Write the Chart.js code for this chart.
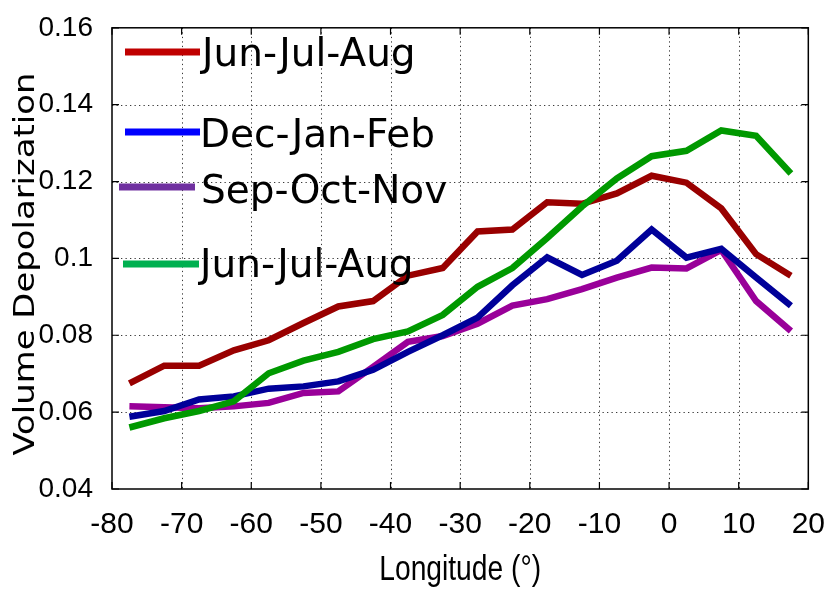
<!DOCTYPE html>
<html>
<head>
<meta charset="utf-8">
<script src="https://cdn.jsdelivr.net/npm/chart.js@4/dist/chart.umd.min.js"></script>
<style>
  html, body { margin: 0; padding: 0; background: #fff; }
  #wrap { width: 835px; height: 590px; }
</style>
</head>
<body>
<div id="wrap"><canvas id="c" width="835" height="590"></canvas></div>
<script>
// ---- data ----
const longitudes = [-77.5, -72.5, -67.5, -62.5, -57.5, -52.5, -47.5, -42.5, -37.5, -32.5,
                    -27.5, -22.5, -17.5, -12.5, -7.5, -2.5, 2.5, 7.5, 12.5, 17.5];
const seriesNames = ['Jun-Jul-Aug', 'Dec-Jan-Feb', 'Sep-Oct-Nov', 'Jun-Jul-Aug'];
const jjaRed = [0.0675, 0.0721, 0.0721, 0.0761, 0.0787, 0.0832, 0.0875, 0.0889, 0.0955, 0.0975,
                0.1070, 0.1075, 0.1146, 0.1142, 0.1169, 0.1215, 0.1197, 0.1130, 0.1011, 0.0955];
const djf    = [0.0588, 0.0603, 0.0633, 0.0641, 0.0661, 0.0667, 0.0680, 0.0710, 0.0757, 0.0800,
                0.0846, 0.0930, 0.1003, 0.0957, 0.0994, 0.1075, 0.1002, 0.1025, 0.0950, 0.0877];
const son    = [0.0615, 0.0613, 0.0610, 0.0615, 0.0624, 0.0650, 0.0654, 0.0718, 0.0783, 0.0798,
                0.0830, 0.0877, 0.0894, 0.0920, 0.0950, 0.0976, 0.0974, 0.1022, 0.0889, 0.0811];
const jjaGreen = [0.0560, 0.0584, 0.0603, 0.0628, 0.0701, 0.0734, 0.0757, 0.0790, 0.0810, 0.0853,
                  0.0926, 0.0975, 0.1053, 0.1135, 0.1208, 0.1266, 0.1280, 0.1333, 0.1319, 0.1221];
const xTicks = [-80, -70, -60, -50, -40, -30, -20, -10, 0, 10, 20];
const xTickLabels = ['-80', '-70', '-60', '-50', '-40', '-30', '-20', '-10', '0', '10', '20'];
const yTicks = [0.04, 0.06, 0.08, 0.10, 0.12, 0.14, 0.16];
const yTickLabels = ['0.04', '0.06', '0.08', '0.1', '0.12', '0.14', '0.16'];
const xTitle = 'Longitude (°)';
const yTitle = 'Volume Depolarization';

// ---- styles ----
const lineColors = ['#990000', '#000099', '#990099', '#009900'];
const legendColors = ['#C00000', '#0000FF', '#7030A0', '#00B050'];
const axisFont = '"Liberation Sans", Arial, sans-serif';

const pts = arr => arr.map((v, i) => ({ x: longitudes[i], y: v }));
const seriesValues = [jjaRed, djf, son, jjaGreen];

// draw order: first dataset on top
const drawOrder = [3, 1, 2, 0];
const datasets = drawOrder.map(i => ({
  label: seriesNames[i],
  data: pts(seriesValues[i]),
  borderColor: lineColors[i],
  backgroundColor: lineColors[i],
  borderWidth: 6.5,
  pointRadius: 0,
  tension: 0,
  fill: false,
  borderJoinStyle: 'miter',
  borderCapStyle: 'butt'
}));

const framePlugin = {
  id: 'frame',
  beforeDatasetsDraw(chart) {
    const { ctx, chartArea: a, scales: { x, y } } = chart;
    ctx.save();
    ctx.strokeStyle = '#3a3a3a';
    ctx.lineWidth = 1;
    ctx.setLineDash([1.3, 3.2]);
    xTicks.slice(1, -1).forEach(v => {
      const px = Math.round(x.getPixelForValue(v)) + 0.5;
      ctx.beginPath(); ctx.moveTo(px, a.top); ctx.lineTo(px, a.bottom); ctx.stroke();
    });
    yTicks.slice(1, -1).forEach(v => {
      const py = Math.round(y.getPixelForValue(v)) + 0.5;
      ctx.beginPath(); ctx.moveTo(a.left, py); ctx.lineTo(a.right, py); ctx.stroke();
    });
    ctx.restore();
  },
  afterDatasetsDraw(chart) {
    const { ctx, chartArea: a, scales: { x, y } } = chart;
    ctx.save();
    ctx.setLineDash([]);
    ctx.strokeStyle = '#000';
    ctx.lineWidth = 1.5;
    ctx.strokeRect(a.left, a.top, a.right - a.left, a.bottom - a.top);
    const tl = 7;
    ctx.lineWidth = 1.2;
    xTicks.forEach(v => {
      const px = x.getPixelForValue(v);
      ctx.beginPath();
      ctx.moveTo(px, a.bottom); ctx.lineTo(px, a.bottom - tl);
      ctx.moveTo(px, a.top); ctx.lineTo(px, a.top + tl);
      ctx.stroke();
    });
    yTicks.forEach(v => {
      const py = y.getPixelForValue(v);
      ctx.beginPath();
      ctx.moveTo(a.left, py); ctx.lineTo(a.left + tl, py);
      ctx.moveTo(a.right, py); ctx.lineTo(a.right - tl, py);
      ctx.stroke();
    });

    // legend (custom, irregular spacing like the reference)
    const legend = [
      { x1: 125, x2: 200, ly: 52, tx: 202, ty: 66 },
      { x1: 125, x2: 200, ly: 132, tx: 200, ty: 147 },
      { x1: 119, x2: 195, ly: 187, tx: 201, ty: 203 },
      { x1: 123, x2: 199, ly: 264, tx: 200, ty: 277 }
    ];
    legend.forEach((L, i) => {
      ctx.strokeStyle = legendColors[i];
      ctx.lineWidth = 7;
      ctx.lineCap = 'butt';
      ctx.beginPath(); ctx.moveTo(L.x1, L.ly); ctx.lineTo(L.x2, L.ly); ctx.stroke();
      ctx.fillStyle = '#000';
      ctx.font = '39px "DejaVu Sans", Verdana, sans-serif';
      ctx.textBaseline = 'alphabetic';
      ctx.textAlign = 'left';
      ctx.fillText(seriesNames[i], L.tx, L.ty);
    });

    // axis titles
    ctx.fillStyle = '#000';
    ctx.save();
    ctx.translate((a.left + a.right) / 2, 570);
    ctx.scale(0.94, 1.15);
    ctx.font = '30px ' + axisFont;
    ctx.textAlign = 'center';
    ctx.textBaseline = 'middle';
    ctx.fillText(xTitle, 0, 0);
    ctx.restore();

    ctx.save();
    ctx.translate(27, 264);
    ctx.rotate(-Math.PI / 2);
    ctx.scale(1.21, 1);
    ctx.font = '28px "DejaVu Sans", Verdana, sans-serif';
    ctx.textAlign = 'center';
    ctx.textBaseline = 'middle';
    ctx.fillText(yTitle, 0, 0);
    ctx.restore();
    ctx.restore();
  }
};

new Chart(document.getElementById('c'), {
  type: 'line',
  data: { datasets },
  options: {
    responsive: false,
    animation: false,
    layout: { padding: { left: 0, right: 25, top: 23, bottom: 0 } },
    plugins: { legend: { display: false }, tooltip: { enabled: false } },
    scales: {
      x: {
        type: 'linear',
        min: -80, max: 20,
        afterBuildTicks: s => { s.ticks = xTicks.map(v => ({ value: v })); },
        afterFit: s => { s.height = 101; },
        grid: { display: false },
        border: { display: false },
        ticks: {
          padding: 10,
          color: '#000',
          font: { family: axisFont, size: 30 },
          maxRotation: 0,
          autoSkip: false,
          callback: (v) => xTickLabels[xTicks.indexOf(v)]
        }
      },
      y: {
        min: 0.04, max: 0.16,
        afterBuildTicks: s => { s.ticks = yTicks.map(v => ({ value: v })); },
        afterFit: s => { s.width = 112; },
        grid: { display: false },
        border: { display: false },
        ticks: {
          padding: 11,
          color: '#000',
          font: { family: axisFont, size: 28 },
          autoSkip: false,
          callback: (v, i) => yTickLabels[i]
        }
      }
    }
  },
  plugins: [framePlugin]
});
</script>
</body>
</html>
